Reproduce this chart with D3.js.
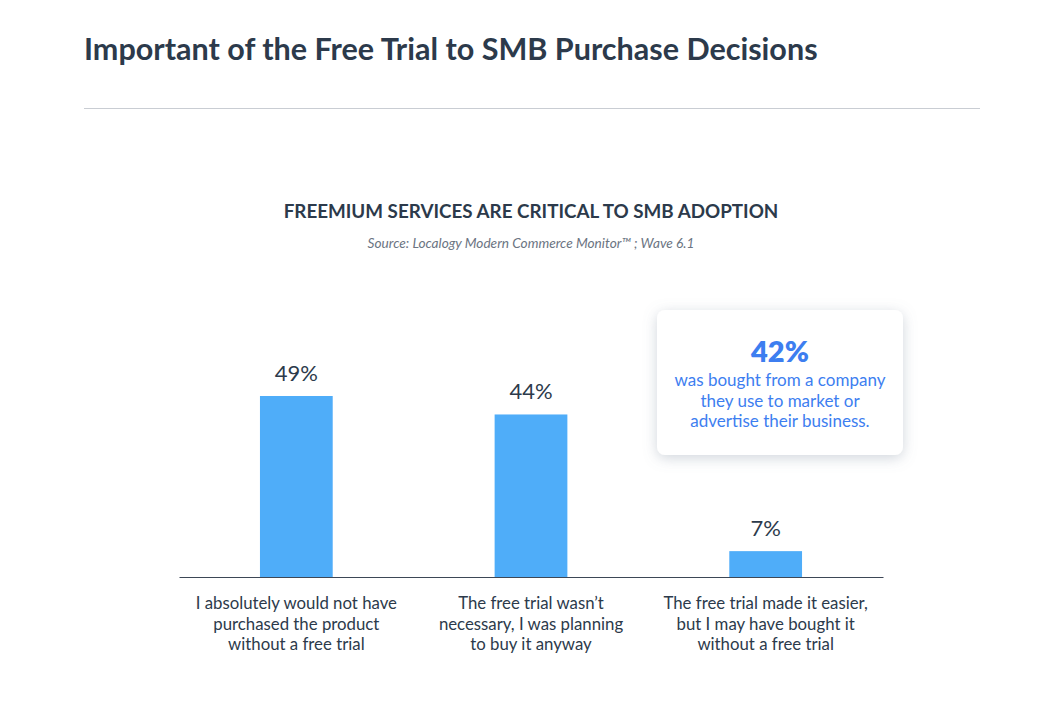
<!DOCTYPE html>
<html>
<head>
<meta charset="utf-8">
<script src="https://cdn.jsdelivr.net/npm/d3@7"></script>
<style>
  html, body { margin: 0; padding: 0; background: #ffffff; }
  svg { display: block; font-family: "Lato", "Noto Sans", sans-serif; }
</style>
</head>
<body>
<svg id="chart" width="1064" height="724"></svg>
<script>
// ---- data ----
const title = "Important of the Free Trial to SMB Purchase Decisions";
const subtitle = "FREEMIUM SERVICES ARE CRITICAL TO SMB ADOPTION";
const source = "Source: Localogy Modern Commerce Monitor\u2122 ; Wave 6.1";
const categories = [
  ["I absolutely would not have", "purchased the product", "without a free trial"],
  ["The free trial wasn\u2019t", "necessary, I was planning", "to buy it anyway"],
  ["The free trial made it easier,", "but I may have bought it", "without a free trial"]
];
const values = [49, 44, 7];
const calloutValue = "42%";
const calloutLines = ["was bought from a company", "they use to market or", "advertise their business."];

// ---- drawing ----
const svg = d3.select("#chart");
const dark = "#2c3a4b";
const blue = "#3d7ef0";
const barColor = "#4fadf9";

const defs = svg.append("defs");
const f = defs.append("filter").attr("id", "shadow")
  .attr("x", "-25%").attr("y", "-30%").attr("width", "150%").attr("height", "160%");
f.append("feDropShadow").attr("dx", 0).attr("dy", 3).attr("stdDeviation", 7)
  .attr("flood-color", "#7a879a").attr("flood-opacity", 0.35);

function fit(sel, target) {
  const n = sel.node();
  const w = n.getComputedTextLength();
  const fs = parseFloat(sel.attr("font-size"));
  sel.attr("font-size", fs * target / w);
}

// Title
const t = svg.append("text").attr("x", 84).attr("y", 60)
  .attr("font-size", 28).attr("font-weight", 700).attr("fill", dark).text(title);
fit(t, 734);

svg.append("line").attr("x1", 84).attr("x2", 980).attr("y1", 108.5).attr("y2", 108.5)
  .attr("stroke", "#c9cdd3").attr("stroke-width", 1.2);

const st = svg.append("text").attr("x", 531).attr("y", 218).attr("text-anchor", "middle")
  .attr("font-size", 18).attr("font-weight", 700).attr("fill", dark).text(subtitle);
fit(st, 495);

const so = svg.append("text").attr("x", 531).attr("y", 248).attr("text-anchor", "middle")
  .attr("font-size", 12).attr("font-style", "italic").attr("fill", "#6b7482").text(source);
fit(so, 327);

// scales
const x = d3.scaleBand().domain(d3.range(values.length)).range([179, 883])
  .paddingInner(0.69).paddingOuter(0.345);
const y = d3.scaleLinear().domain([0, 49]).range([577, 396]);

svg.append("g").selectAll("rect").data(values).join("rect")
  .attr("x", (d, i) => x(i)).attr("width", x.bandwidth())
  .attr("y", d => y(d)).attr("height", d => y(0) - y(d))
  .attr("fill", barColor);

svg.append("g").selectAll("text").data(values).join("text")
  .attr("x", (d, i) => x(i) + x.bandwidth() / 2)
  .attr("y", d => y(d) - 15)
  .attr("text-anchor", "middle").attr("font-size", 22).attr("fill", dark)
  .text(d => d + "%");

// axis baseline
const axis = svg.append("g").attr("transform", `translate(0,${y(0)})`)
  .call(d3.axisBottom(x).tickSize(0).tickFormat(""));
axis.select(".domain").attr("stroke", "#3d4756").attr("stroke-width", 1.2);

// category labels
const cl = svg.append("g").selectAll("text").data(categories).join("text")
  .attr("x", (d, i) => x(i) + x.bandwidth() / 2)
  .attr("y", 609).attr("text-anchor", "middle").attr("font-size", 16.8).attr("fill", dark);
cl.selectAll("tspan").data(d => d).join("tspan")
  .attr("x", function () { return d3.select(this.parentNode).attr("x"); })
  .attr("dy", (d, i) => i === 0 ? 0 : 20.5)
  .text(d => d);

// callout
const cx = 780;
svg.append("rect").attr("x", 657).attr("y", 310).attr("width", 246).attr("height", 145)
  .attr("rx", 8).attr("fill", "#ffffff").attr("filter", "url(#shadow)");
svg.append("text").attr("x", cx).attr("y", 362).attr("text-anchor", "middle")
  .attr("font-size", 29).attr("font-weight", 800).attr("fill", blue).text(calloutValue);
svg.append("g").selectAll("text").data(calloutLines).join("text")
  .attr("x", cx).attr("y", (d, i) => 386 + i * 20.5)
  .attr("text-anchor", "middle").attr("font-size", 17).attr("fill", blue)
  .text(d => d);
</script>
</body>
</html>
